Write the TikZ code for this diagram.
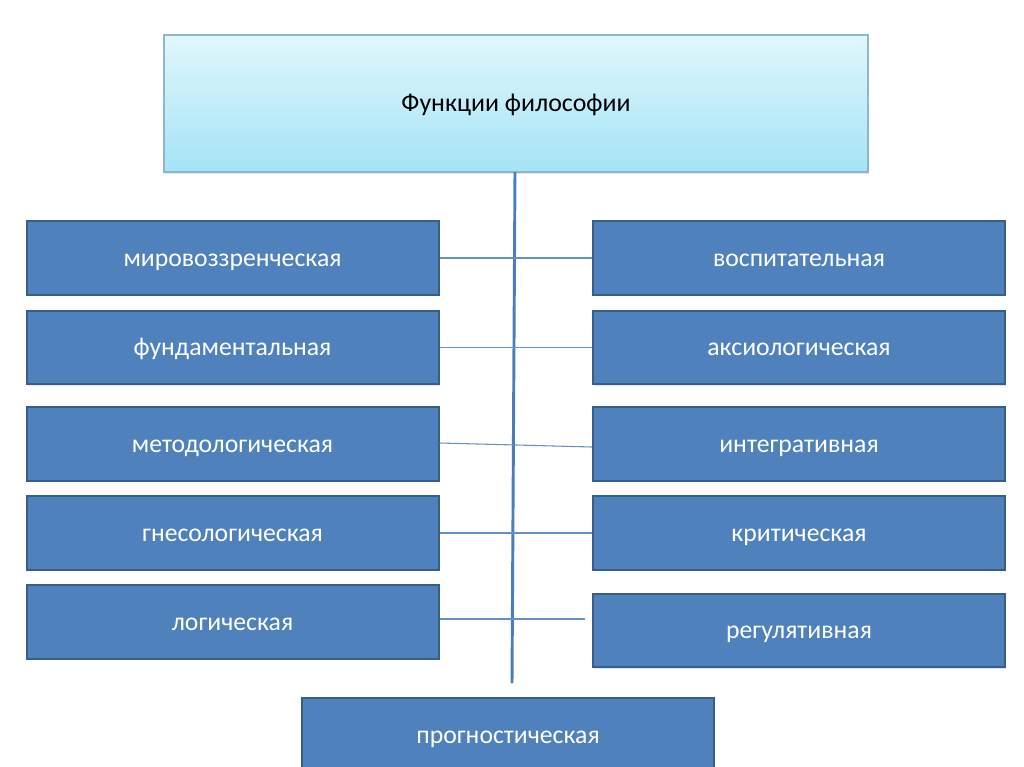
\documentclass[tikz,border=0pt]{standalone}
\usepackage{fontspec}
\setmainfont{Carlito}
\usetikzlibrary{shadows}
\definecolor{boxblue}{HTML}{4F81BD}
\definecolor{boxedge}{HTML}{385D8A}
\definecolor{linkblue}{HTML}{4A7EBB}
\definecolor{skytop}{HTML}{E0F7FD}
\definecolor{skybot}{HTML}{A5E3F5}
\definecolor{skyedge}{HTML}{8FB6CB}
\tikzset{
  funcbox/.style={draw=boxedge,line width=1.5pt,fill=boxblue,text=white,
    minimum width=309pt,minimum height=55pt,inner sep=0pt,
    text height=14pt,text depth=2pt,
    font=\fontsize{19.3}{23}\selectfont,
    drop shadow={opacity=0.2,shadow xshift=0.8pt,shadow yshift=-1.2pt}},
  headbox/.style={draw=skyedge,line width=0.8pt,top color=skytop,bottom color=skybot,
    minimum width=528pt,minimum height=102.75pt,inner sep=0pt,
    text height=14pt,text depth=2pt,
    font=\fontsize{19.4}{23}\selectfont,
    drop shadow={opacity=0.2,shadow xshift=0.8pt,shadow yshift=-1.5pt}},
  link/.style={draw=linkblue!85,line width=0.8pt},
  spine/.style={draw=linkblue,line width=2.2pt}
}
\begin{document}
\begin{tikzpicture}[x=0.75pt,y=-0.75pt]
  \useasboundingbox[fill=white] (0,0) rectangle (1024,767);
  \node[headbox] (head) at (516,103.5) {Функции философии};
  \coordinate (spinetop) at (515,172);
  \coordinate (spinebot) at (512,683);
  \draw[spine] (spinetop) -- (spinebot);
  \node[funcbox] (l1) at (232.5,258) {мировоззренческая};
  \node[funcbox] (l2) at (232.5,347.5) {фундаментальная};
  \node[funcbox] (l3) at (232.5,444) {методологическая};
  \node[funcbox] (l4) at (232.5,533) {гнесологическая};
  \node[funcbox] (l5) at (232.5,622) {логическая};
  \node[funcbox] (r1) at (799,258) {воспитательная};
  \node[funcbox] (r2) at (799,347.5) {аксиологическая};
  \node[funcbox] (r3) at (799,444) {интегративная};
  \node[funcbox] (r4) at (799,533) {критическая};
  \node[funcbox] (r5) at (799,630.5) {регулятивная};
  \node[funcbox] (prog) at (508,735) {прогностическая};
  \coordinate (l5end) at (585,619);
  \draw[link] (l1.east) -- (r1.west);
  \draw[link] (l2.east) -- (r2.west);
  \draw[link] ([yshift=0.75pt]l3.east) -- ([yshift=-2.25pt]r3.west);
  \draw[link] (l4.east) -- (r4.west);
  \draw[link] ([yshift=2.25pt]l5.east) -- (l5end);
\end{tikzpicture}
\end{document}
